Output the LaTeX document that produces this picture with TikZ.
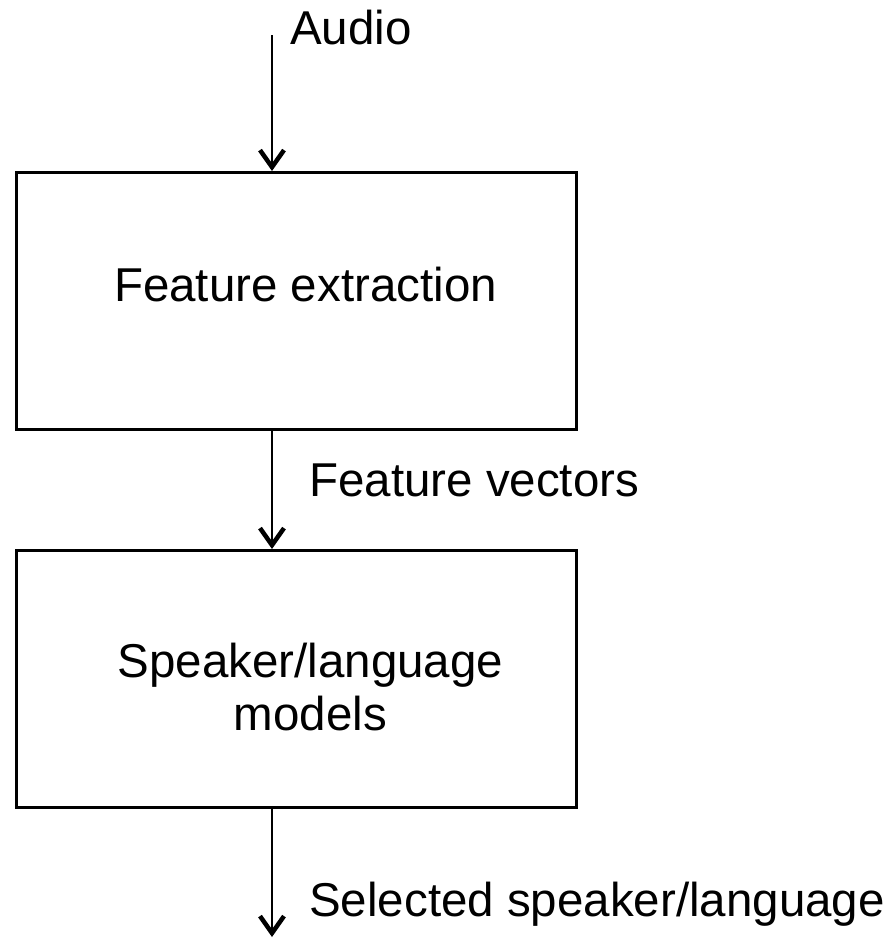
\documentclass[tikz,border=0pt]{standalone}
\usepackage{fontspec}
\setmainfont{Liberation Sans}
\usetikzlibrary{arrows.meta}
\begin{document}
\begin{tikzpicture}[x=1pt,y=-1pt,
  blk/.style={draw,line width=3pt,minimum width=560pt,minimum height=257pt,inner sep=0pt,anchor=north west},
  lbl/.style={inner sep=0pt,font=\fontsize{47.5}{53}\selectfont},
  flow/.style={line width=2.8pt,-{Straight Barb[length=17pt,width=24pt,line width=4.5pt 0]}}]
\useasboundingbox (0,0) rectangle (894,940);
\node[blk] (fe) at (15,171) {};
\node[blk] (sl) at (15,549) {};
\coordinate (top) at (272,35);
\coordinate (bot) at (272,937);
\node[lbl,anchor=base west] (audio) at (290,44) {Audio};
\node[lbl,anchor=base] (fet) at (305.5,301) {Feature extraction};
\node[lbl,anchor=base west] (fv) at (309,496) {Feature vectors};
\node[lbl,anchor=base,align=center] (slt) at (310.5,730) {Speaker/language\\models};
\node[lbl,anchor=base west] (sel) at (309,916) {Selected speaker/language};
\draw[flow] (top) -- (top |- fe.north);
\draw[flow] (fe.south -| top) -- (sl.north -| top);
\draw[flow] (sl.south -| top) -- (bot);
\end{tikzpicture}
\end{document}
